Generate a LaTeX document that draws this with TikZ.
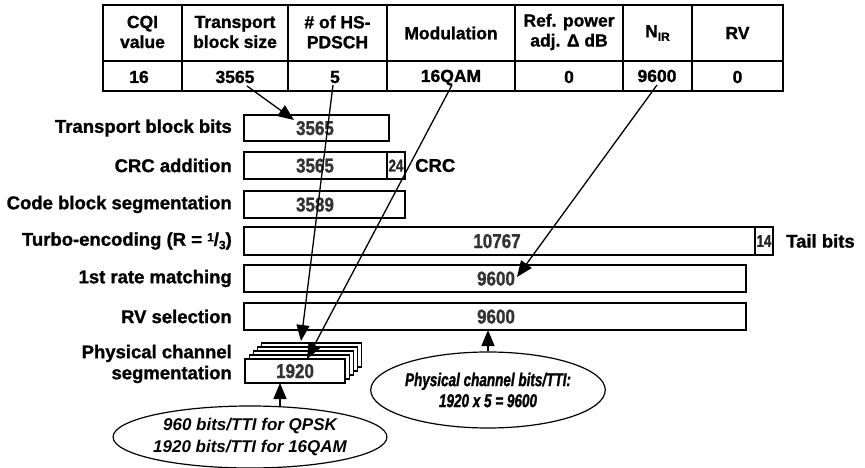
\documentclass[tikz,border=0pt]{standalone}
\usepackage{fontspec}
\setmainfont{Liberation Sans}[BoldFeatures={FakeBold=1.2}]
\newfontfamily\condfont{Liberation Sans}[FakeStretch=0.73,BoldFeatures={FakeBold=1.3,FakeStretch=0.73},BoldItalicFeatures={FakeBold=1.3,FakeStretch=0.73}]
\newfontfamily\smallcond{Liberation Sans}[FakeStretch=0.78,BoldFeatures={FakeBold=1.2,FakeStretch=0.78}]
\newfontfamily\numfont{Liberation Sans}[FakeStretch=0.85,BoldFeatures={FakeBold=1.2,FakeStretch=0.85}]
\usetikzlibrary{arrows.meta,shapes.geometric}
\begin{document}
\begin{tikzpicture}[x=1pt,y=-1pt,
  lbl/.style={anchor=east,inner sep=0,font=\fontsize{18.5}{21}\selectfont\bfseries,align=right},
  tabhdr/.style={inner sep=0,align=center,font=\fontsize{17.5}{20}\selectfont\bfseries},
  tabval/.style={inner sep=0,anchor=base,font=\fontsize{17.5}{20}\selectfont\bfseries},
  num/.style={inner sep=0,anchor=base,text=black!80,font=\numfont\fontsize{20}{22}\selectfont\bfseries},
  smallnum/.style={inner sep=0,text=black!85,font=\smallcond\fontsize{17}{20}\selectfont\bfseries},
  bitbox/.style={draw,line width=1.3pt,fill=white,anchor=north west,inner sep=0,outer sep=0},
  arr/.style={line width=1.3pt,-{Triangle[length=16pt,width=13pt]}},
  ell/.style={draw,ellipse,line width=1.2pt,inner sep=0,align=center},
  grid/.style={line width=1.2pt},
  frame/.style={line width=2.4pt}]
\useasboundingbox (0,0) rectangle (865,468);

% ---------- table ----------
\foreach \x in {182,288,387,515,623,692} \draw[grid] (\x,5) -- (\x,91);
\draw[grid] (103,61) -- (783,61);
\draw[frame] (103,5) rectangle (783,91);

\node[tabhdr] (h1) at (142.5,32) {CQI\\value};
\node[tabhdr] (h2) at (235,32) {Transport\\block size};
\node[tabhdr] (h3) at (337.5,32) {\# of HS-\\PDSCH};
\node[tabhdr] (h4) at (451,33) {Modulation};
\node[tabhdr] (h5) at (569,32) {Ref. power\\adj. Δ dB};
\node[tabhdr] (h6) at (657.5,33) {N\raisebox{-0.4ex}{\fontsize{12}{12}\selectfont IR}};
\node[tabhdr] (h7) at (737.5,33) {RV};

\node[tabval] (d1) at (139,83) {16};
\node[tabval] (d2) at (235,83) {3565};
\node[tabval] (d3) at (335,83) {5};
\node[tabval] (d4) at (451,82) {16QAM};
\node[tabval] (d5) at (569,83) {0};
\node[tabval] (d6) at (657,82) {9600};
\node[tabval] (d7) at (737.5,83) {0};

% ---------- row labels ----------
\node[lbl] (l1) at (232,128) {Transport block bits};
\node[lbl] (l2) at (232,165.5) {CRC addition};
\node[lbl] (l3) at (232,204.5) {Code block segmentation};
\node[lbl] (l4) at (232,241) {Turbo-encoding (R = \raisebox{0.45ex}{\fontsize{12}{12}\selectfont 1}/\raisebox{-0.35ex}{\fontsize{12}{12}\selectfont 3})};
\node[lbl] (l5) at (232,278.5) {1st rate matching};
\node[lbl] (l6) at (232,316.5) {RV selection};
\node[lbl] (l7) at (232,364) {Physical channel\\segmentation};

% ---------- bit boxes ----------
\node[bitbox,minimum width=145,minimum height=26] (b1) at (244,115) {};
\node[bitbox,minimum width=143,minimum height=27] (b2) at (244,152) {};
\node[bitbox,minimum width=18,minimum height=27] (b2c) at (387,152) {};
\node[bitbox,minimum width=161,minimum height=27] (b3) at (244,191) {};
\node[bitbox,minimum width=511,minimum height=28] (b4) at (244,227) {};
\node[bitbox,minimum width=18,minimum height=28] (b4t) at (755,227) {};
\node[bitbox,minimum width=502,minimum height=27] (b5) at (244,265) {};
\node[bitbox,minimum width=502,minimum height=27] (b6) at (244,303) {};

\foreach \i in {4,3,2,1}
  \node[bitbox,minimum width=100,minimum height=24] (ps\i) at (245+4.2*\i,359-4*\i) {};
\node[bitbox,minimum width=100,minimum height=24] (ph) at (245,359) {};

\node[num] (n1) at (315,135) {3565};
\node[num] (n2) at (315,172.5) {3565};
\node[smallnum] (n2c) at (b2c.center) {24};
\node[num] (n3) at (315,211.5) {3589};
\node[num] (n4) at (497,248) {10767};
\node[smallnum] (n4t) at (b4t.center) {14};
\node[num] (n5) at (496,285.5) {9600};
\node[num] (n6) at (496,323.5) {9600};
\node[num] (n7) at (295,378) {1920};

\node[anchor=west,inner sep=0,font=\fontsize{18.5}{20}\selectfont\bfseries] (crc) at (415,165.5) {CRC};
\node[anchor=west,inner sep=0,font=\fontsize{18.5}{20}\selectfont\bfseries] (tail) at (786,241) {Tail bits};

% ---------- ellipses ----------
\node[ell,minimum width=236,minimum height=62,font=\fontsize{17}{22}\selectfont\bfseries\itshape] (e1) at (250,437)
  {960 bits/TTI for QPSK\\1920 bits/TTI for 16QAM};
\node[ell,minimum width=204,minimum height=76,font=\condfont\fontsize{18.5}{21}\selectfont\bfseries\itshape] (e2) at (488,390)
  {Physical channel bits/TTI:\\1920 x 5 = 9600};

% ---------- arrows ----------
\coordinate (s1) at (247,86);
\coordinate (t1) at (294,120);
\coordinate (s2) at (333,85);
\coordinate (t2) at (301,341);
\coordinate (s3) at (452,85);
\coordinate (t3) at (307,359);
\coordinate (s4) at (657,85);
\coordinate (t4) at (517,277);
\coordinate (s6) at (280,407);

\draw[arr] (s1) -- (t1);
\draw[arr] (s2) -- (t2);
\draw[arr] (s3) -- (t3);
\draw[arr] (s4) -- (t4);
\draw[arr] (e2.north) -- (e2.north |- b6.south);
\draw[arr] (s6) -- (s6 |- ph.south);
\end{tikzpicture}
\end{document}
